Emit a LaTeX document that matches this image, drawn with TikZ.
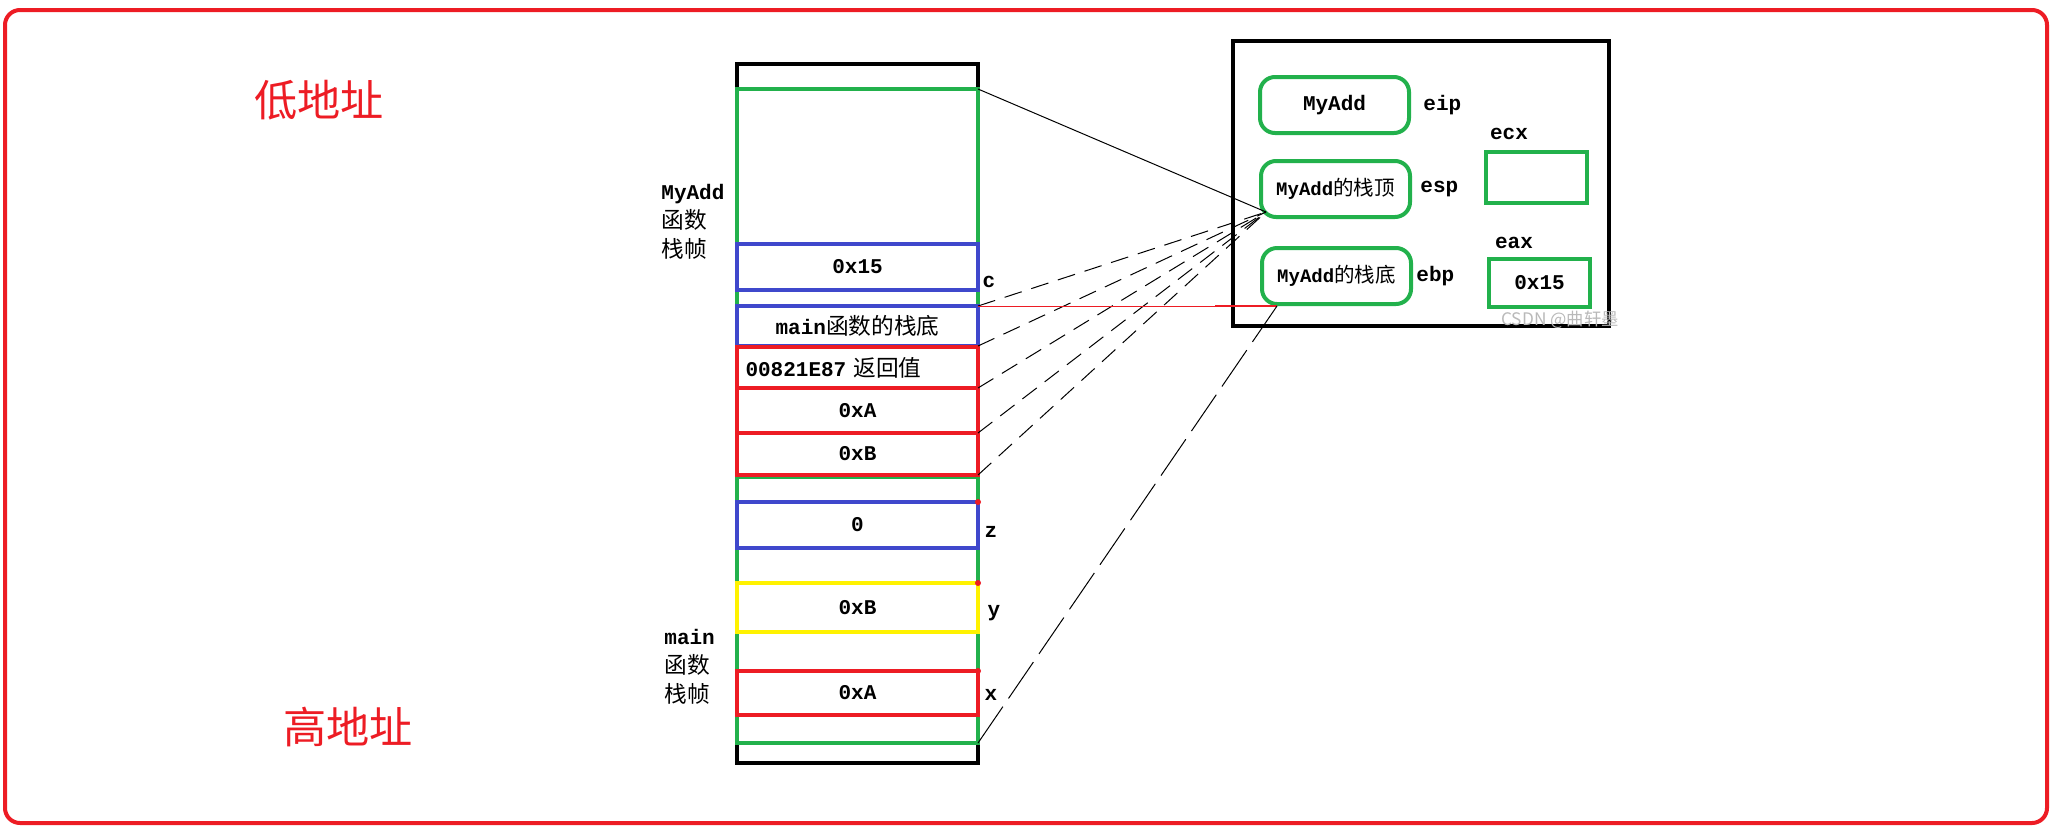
\documentclass[tikz,border=0pt]{standalone}
\usepackage{fontspec}
\setmainfont{Liberation Mono}
\newfontfamily\cjkfont{Noto Sans CJK SC}[Scale=1.08]
\newcommand{\zh}[1]{{\mdseries\cjkfont #1}}
\usetikzlibrary{positioning,calc}
\definecolor{paintred}{HTML}{ED1C24}
\definecolor{paintgreen}{HTML}{22B14C}
\definecolor{paintblue}{HTML}{3F48CC}
\definecolor{paintyellow}{HTML}{FFF200}

\begin{document}
\begin{tikzpicture}[
  x=0.5pt, y=-0.5pt,
  every node/.style={font=\fontsize{10.5}{13}\selectfont\bfseries},
  frame/.style={draw, line width=2pt, minimum width=120.5pt, inner sep=0pt, outer sep=0pt},
  cell/.style={draw, line width=2pt, minimum width=120.5pt, inner sep=0pt, outer sep=0pt},
  reg/.style={draw=paintgreen, line width=2pt, rounded corners=7.5pt, minimum width=74.5pt, minimum height=28pt, inner sep=0pt, outer sep=0pt},
  regval/.style={draw=paintgreen, line width=2pt, minimum width=50.5pt, inner sep=0pt, outer sep=0pt},
  tag/.style={inner sep=0pt},
  link/.style={line width=0.5pt},
  dashlink/.style={line width=0.5pt, dash pattern=on 9pt off 5pt},
  longdash/.style={line width=0.5pt, dash pattern=on 22pt off 5pt},
  addr/.style={text=paintred, font=\fontsize{20}{24}\selectfont\cjkfont}
]
\useasboundingbox (0,0) rectangle (2051,831);
\draw[paintred, line width=2pt, rounded corners=7.5pt] (5,10) rectangle (2047,823);

% ---------- Address hints ----------
\node[addr] (lowaddr) at (319,100) {低地址};
\node[addr] (highaddr) at (348,727) {高地址};

% ---------- Stack ----------
\node[frame, minimum height=349.5pt] (stack) at (857.5,413.5) {};
\node[frame, draw=paintgreen, minimum height=108.5pt] (addframe) at (857.5,197.5) {};
\node[frame, draw=paintgreen, minimum height=133pt] (mainframe) at (857.5,610) {};
% MyAdd frame cells
\node[cell, draw=paintblue, minimum height=23pt] (cval) at (857.5,267) {0x15};
\node[cell, draw=paintblue, minimum height=20pt] (mainebp) at (857.5,326) {main\zh{函数的栈底}};
\node[cell, draw=paintred, minimum height=20.5pt, text width=112pt, align=left] (retaddr) at (857.5,367.5) {00821E87 \zh{返回值}};
\node[cell, draw=paintred, minimum height=22.5pt] (argA) at (857.5,410.5) {0xA};
\node[cell, draw=paintred, minimum height=21pt] (argB) at (857.5,454) {0xB};
% main frame cells
\node[cell, draw=paintblue, minimum height=23pt] (zval) at (857.5,525) {0};
\node[cell, draw=paintyellow, minimum height=24.5pt] (yval) at (857.5,607.5) {0xB};
\node[cell, draw=paintred, minimum height=22pt] (xval) at (857.5,693) {0xA};
\foreach \src in {zval, yval, xval}
  \fill[paintred] (\src.north east) circle (1.5pt);

% variable names
\node[tag] (ctag) at (989,282) {c};
\node[tag] (ztag) at (991,532) {z};
\node[tag] (ytag) at (994,613) {y};
\node[tag] (xtag) at (991,695) {x};

% frame names
\node[tag, anchor=west, align=left, font=\fontsize{10.5}{14.5}\selectfont\bfseries] (addname) at (661,222) {MyAdd\\\zh{函数}\\\zh{栈帧}};
\node[tag, anchor=west, align=left, font=\fontsize{10.5}{14.5}\selectfont\bfseries] (mainname) at (664,667) {main\\\zh{函数}\\\zh{栈帧}};

% ---------- Registers ----------
\node[draw, line width=2pt, minimum width=188pt, minimum height=142.5pt, inner sep=0pt, outer sep=0pt] (cpu) at (1421,183.5) {};
\node[reg] (eipbox) at (1334.5,105) {MyAdd};
\node[reg, font=\fontsize{9.5}{11}\selectfont\bfseries] (espbox) at (1335.5,189) {MyAdd\zh{的栈顶}};
\node[reg, font=\fontsize{9.5}{11}\selectfont\bfseries] (ebpbox) at (1336.5,276) {MyAdd\zh{的栈底}};
\node[regval, minimum height=25.5pt] (ecxbox) at (1536.5,177.5) {};
\node[regval, minimum height=24pt] (eaxbox) at (1539.5,283) {0x15};
\node[tag, right=7pt of eipbox] (eip) {eip};
\node[tag, right=5pt of espbox] (esp) {esp};
\node[tag, right=2.5pt of ebpbox] (ebp) {ebp};
\node[tag] (ecx) at (1509,134) {ecx};
\node[tag] (eax) at (1514,243) {eax};
\node[tag, text=gray!55, font=\fontsize{8}{10}\selectfont\cjkfont] (mark) at (1560,320) {CSDN @曲轩墨};

% ---------- Pointers ----------
\coordinate (esptip) at ($(espbox.south west)+(5,-5)$);
\coordinate (ebptip) at ($(ebpbox.south west)+(15,2)$);
\draw[link] (addframe.north east) -- (esptip);
\foreach \src in {addframe, mainebp, retaddr, argA, argB}
  \draw[dashlink] (\src.south east) -- (esptip);
\draw[link, paintred] (addframe.south east) -- (ebptip);
\draw[paintred, line width=1pt] ($(ebptip)+(-62,0)$) -- (ebptip);
\draw[longdash] (mainframe.south east) -- (ebptip);
\end{tikzpicture}
\end{document}
